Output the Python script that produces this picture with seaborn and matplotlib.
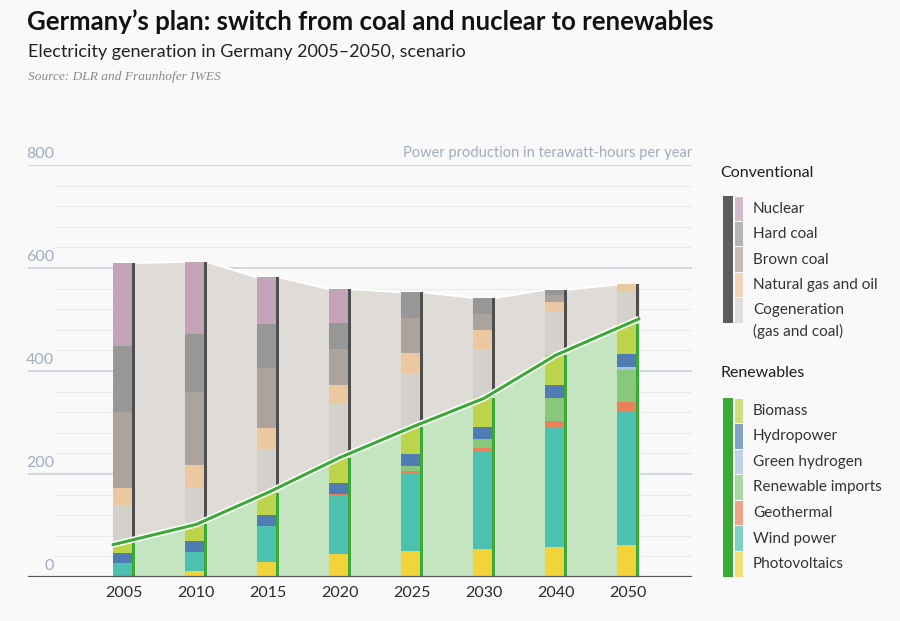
import numpy as np
import matplotlib
matplotlib.use("Agg")
import matplotlib.pyplot as plt
import seaborn as sns
import pandas as pd

years = ["2005", "2010", "2015", "2020", "2025", "2030", "2040", "2050"]

# Renewables, TWh per year (stacked bottom -> top)
photovoltaics = [0, 12, 30, 44, 50, 55, 58, 63]
wind_power = [28, 37, 70, 114, 150, 188, 231, 258]
geothermal = [0, 0, 0, 3, 5, 7, 13, 19]
renewable_imports = [0, 0, 0, 0, 10, 18, 46, 62]
green_hydrogen = [0, 0, 0, 0, 0, 0, 0, 5]
hydropower = [19, 20, 20, 21, 23, 23, 25, 26]
biomass = [21, 33, 44, 50, 53, 56, 58, 59]

# Conventional, TWh per year (stacked bottom -> top)
cogeneration = [71, 73, 84, 106, 106, 96, 84, 63]
gas_and_oil = [33, 43, 41, 34, 37, 36, 19, 13]
brown_coal = [149, 141, 117, 71, 69, 31, 13, 0]
hard_coal = [128, 113, 85, 50, 50, 32, 11, 0]
nuclear = [161, 140, 91, 66, 0, 0, 0, 0]

renew_names = ["Photovoltaics", "Wind power", "Geothermal", "Renewable imports",
               "Green hydrogen", "Hydropower", "Biomass"]
renew_vals = [photovoltaics, wind_power, geothermal, renewable_imports,
              green_hydrogen, hydropower, biomass]
renew_cols = ["#f0d43a", "#4dc1b0", "#e8805a", "#88c87c",
              "#a8c2e0", "#4f7db3", "#bcd44a"]

conv_names = ["Cogeneration\n(gas and coal)", "Natural gas and oil", "Brown coal",
              "Hard coal", "Nuclear"]
conv_vals = [cogeneration, gas_and_oil, brown_coal, hard_coal, nuclear]
conv_cols = ["#d4d1cc", "#ebc89f", "#aca39c", "#979797", "#c4a2b7"]

BG = "#f9f9f9"
GREEN = "#3aa935"
DARK = "#4e4e4e"
AREA_GREEN = "#c5e5c0"
AREA_GRAY = "#dfdcd8"
AXIS_BLUE = "#9fadc0"

sns.set_style("white")
plt.rcParams["font.family"] = ["Lato", "DejaVu Sans"]

fig = plt.figure(figsize=(9, 6.21), dpi=100, facecolor=BG)
ax = fig.add_axes([28 / 900, 44 / 621, 664 / 900, 412 / 621])
ax.set_facecolor(BG)

px = 1 / 72  # one pixel in category units (72 px between years)
x = np.arange(len(years))
x_left, x_right = -96 * px, 7 + 64 * px
ax.set_xlim(x_left, x_right)
ax.set_ylim(0, 800)
for s in ax.spines.values():
    s.set_visible(False)
ax.set_xticks([])
ax.set_yticks([])

# grid
ax.hlines([v for v in range(40, 800, 40) if v % 200], x_left + 27 * px, x_right,
          color="#e9eaeb", lw=0.9, zorder=0)
ax.hlines([200, 400, 600, 800], x_left, x_right, color="#c9d2dc", lw=1.2, zorder=0)
ax.hlines(0, x_left, x_right, color="#555555", lw=1.6, zorder=6)
for v in [0, 200, 400, 600, 800]:
    ax.annotate(str(v), (x_left + 26 * px, v), xytext=(0, 5), textcoords="offset points",
                ha="right", va="baseline", fontsize=11.5, color=AXIS_BLUE)
ax.annotate("Power production in terawatt-hours per year", (x_right, 800),
            xytext=(0, 5.5), textcoords="offset points", ha="right", va="baseline",
            fontsize=10.5, color=AXIS_BLUE)

renew_tot = np.sum(renew_vals, axis=0)
total = renew_tot + np.sum(conv_vals, axis=0)

half = 11 * px
bar_w = 19 * px
stripe_w = 3 * px

# gray conventional band behind the bars
gx, gy = [], []
for i in x:
    gx += [i - half, i + half]
    gy += [total[i], total[i]]
ax.fill_between(gx, 0, gy, color=AREA_GRAY, lw=0, zorder=1)
ax.plot(gx, gy, color="white", lw=1.5, zorder=1.5)

# green renewables area
slope0 = renew_tot[1] - renew_tot[0]
slope1 = renew_tot[-1] - renew_tot[-2]
lx = np.concatenate([[x[0] - half], x, [x[-1] + half]])
ly = np.concatenate([[renew_tot[0] - slope0 * half], renew_tot, [renew_tot[-1] + slope1 * half]])
ax.fill_between(lx, 0, ly, color=AREA_GREEN, lw=0, zorder=2)

# stacked bars
bottom = np.zeros(len(years))
for vals, col in zip(renew_vals + conv_vals, renew_cols + conv_cols):
    ax.bar(x - half, vals, width=bar_w, bottom=bottom, align="edge",
           color=col, lw=0, zorder=3)
    bottom = bottom + np.array(vals)

# stripes to the right of each bar
ax.bar(x + half - stripe_w, renew_tot, width=stripe_w, align="edge", color=GREEN, lw=0, zorder=4)
ax.bar(x + half - stripe_w, total - renew_tot - 4, width=stripe_w, bottom=renew_tot + 4,
       align="edge", color=DARK, lw=0, zorder=4)

# renewables line
line_df = pd.DataFrame({"x": lx, "y": ly})
ax.plot(lx, ly, color="white", lw=4.5, zorder=5, solid_capstyle="butt")
sns.lineplot(data=line_df, x="x", y="y", color=GREEN, lw=2.2, ax=ax, zorder=5.5,
             estimator=None, sort=False, legend=False)
ax.set_xlabel("")
ax.set_ylabel("")

for i, yr in zip(x, years):
    ax.annotate(yr, (i, 0), xytext=(0, -6.5), textcoords="offset points",
                ha="center", va="top", fontsize=11.5, color="#2b2b2b")

# overlay in pixel coordinates for titles and legend
ov = fig.add_axes([0, 0, 1, 1], zorder=10)
ov.set_xlim(0, 900)
ov.set_ylim(621, 0)
ov.axis("off")
ov.patch.set_alpha(0)

ov.text(27, 30, "Germany’s plan: switch from coal and nuclear to renewables",
        fontsize=18.5, fontweight="bold", color="#111111", va="baseline")
ov.text(28, 57, "Electricity generation in Germany 2005–2050, scenario",
        fontsize=13, color="#222222", va="baseline")
ov.text(28, 80, "Source: DLR and Fraunhofer IWES", fontsize=9.6, style="italic",
        family="Liberation Serif", color="#8a8a8a", va="baseline")


def legend_block(header, names, cols, y_head, y0, y1, stripe_col):
    ov.text(720, y_head, header, fontsize=11.5, color="#1e1e1e", va="baseline")
    ov.add_patch(plt.Rectangle((723, y0), 10, y1 - y0, color=stripe_col, lw=0))
    step = (y1 - y0) / len(names)
    for k, (name, col) in enumerate(zip(names, cols)):
        top = y0 + k * step
        ov.add_patch(plt.Rectangle((735, top + 0.5), 8, step - 1, color=col, alpha=0.7, lw=0))
        lines = name.split("\n")
        for j, ln in enumerate(lines):
            ov.text(753, top + step / 2 + j * 21, ln, fontsize=11, color="#333333", va="center")


legend_block("Conventional", conv_names[::-1], conv_cols[::-1], 177, 196, 323, "#5c5c5c")
legend_block("Renewables", renew_names[::-1], renew_cols[::-1], 377, 398, 577, GREEN)

fig.savefig("out.png", dpi=100, facecolor=BG)
